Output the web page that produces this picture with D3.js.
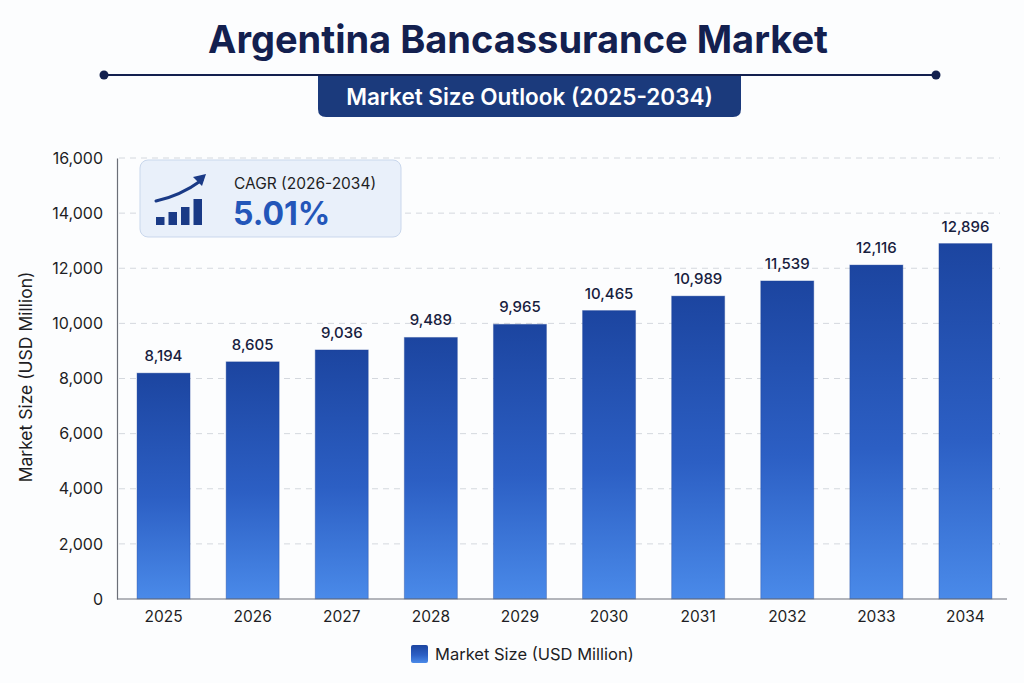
<!DOCTYPE html>
<html>
<head>
<meta charset="utf-8">
<script src="https://cdn.jsdelivr.net/npm/d3@7"></script>
<style>
  html, body { margin: 0; padding: 0; background: #fcfdfe; }
  svg { display: block; font-family: Inter, "Noto Sans", sans-serif; }
</style>
</head>
<body>
<svg id="chart"></svg>
<script>
// data
const YEARS = ['2025', '2026', '2027', '2028', '2029', '2030', '2031', '2032', '2033', '2034'];
const MARKET_SIZE = [8194, 8605, 9036, 9489, 9965, 10465, 10989, 11539, 12116, 12896];
const Y_TICKS = [0, 2000, 4000, 6000, 8000, 10000, 12000, 14000, 16000];
const CAGR_LABEL = 'CAGR (2026-2034)';
const CAGR_VALUE = '5.01%';

const WIDTH = 1024;
const HEIGHT = 683;
const MARGIN = { top: 158, right: 14, bottom: 84, left: 119 };
const CHART_W = 891;
const CHART_H = HEIGHT - MARGIN.top - MARGIN.bottom;

const svg = d3.select('#chart').attr('width', WIDTH).attr('height', HEIGHT);

const defs = svg.append('defs');
const grad = defs.append('linearGradient')
    .attr('id', 'barGrad')
    .attr('x1', 0).attr('y1', 0).attr('x2', 0).attr('y2', 1);
grad.append('stop').attr('offset', '0%').attr('stop-color', '#1c45a0');
grad.append('stop').attr('offset', '55%').attr('stop-color', '#2c5fc4');
grad.append('stop').attr('offset', '100%').attr('stop-color', '#4a8ae9');

// ---- title block ----
svg.append('text')
    .attr('x', 518).attr('y', 53)
    .attr('text-anchor', 'middle')
    .attr('font-size', 38).attr('font-weight', 700)
    .attr('fill', '#13204f')
    .text('Argentina Bancassurance Market');

svg.append('line')
    .attr('x1', 104).attr('x2', 936).attr('y1', 75).attr('y2', 75)
    .attr('stroke', '#13204f').attr('stroke-width', 2);
svg.selectAll('.end-dot')
    .data([104, 936])
    .enter().append('circle')
    .attr('cx', d => d).attr('cy', 75).attr('r', 4.5)
    .attr('fill', '#13204f');

svg.append('path')
    .attr('d', 'M318,76 H741 V109 Q741,117 733,117 H326 Q318,117 318,109 Z')
    .attr('fill', '#1b3a7c');
svg.append('text')
    .attr('x', 529.5).attr('y', 105)
    .attr('text-anchor', 'middle')
    .attr('font-size', 22.5).attr('font-weight', 600)
    .attr('fill', '#ffffff')
    .text('Market Size Outlook (2025-2034)');

// ---- scales ----
const x = d3.scaleBand()
    .domain(YEARS)
    .range([0, CHART_W])
    .paddingInner(0.405)
    .paddingOuter(0.2025);

const y = d3.scaleLinear()
    .domain([0, 16000])
    .range([CHART_H, 0]);

const chart = svg.append('g').attr('transform', `translate(${MARGIN.left},${MARGIN.top})`);

// gridlines
chart.append('g')
    .selectAll('line')
    .data(Y_TICKS.filter(d => d > 0))
    .enter().append('line')
    .attr('x1', 0).attr('x2', CHART_W - 10)
    .attr('y1', d => y(d)).attr('y2', d => y(d))
    .attr('stroke', '#d4d8de')
    .attr('stroke-dasharray', '6,5');

// y axis
const yAxis = chart.append('g')
    .call(d3.axisLeft(y).tickValues(Y_TICKS).tickFormat(d3.format(',')).tickSize(0).tickPadding(14))
    .attr('transform', 'translate(-2,0)');
yAxis.select('.domain').attr('stroke', '#6b6f78').attr('stroke-width', 1.2);
yAxis.selectAll('text').attr('font-size', 16).attr('fill', '#1e1e24').attr('font-family', 'Inter, sans-serif');

// bars
chart.selectAll('.bar')
    .data(MARKET_SIZE)
    .enter().append('rect')
    .classed('bar', true)
    .attr('x', (d, i) => x(YEARS[i]))
    .attr('y', d => y(d))
    .attr('width', x.bandwidth())
    .attr('height', d => CHART_H - y(d))
    .attr('fill', 'url(#barGrad)')
    .attr('stroke', '#1a3f94')
    .attr('stroke-opacity', 0.35)
    .attr('stroke-width', 1);

// value labels
chart.selectAll('.label')
    .data(MARKET_SIZE)
    .enter().append('text')
    .classed('label', true)
    .attr('x', (d, i) => x(YEARS[i]) + x.bandwidth() / 2)
    .attr('y', d => y(d) - 12)
    .attr('text-anchor', 'middle')
    .attr('font-size', 15).attr('font-weight', 500)
    .attr('fill', '#17203d')
    .text(d => d3.format(',')(d));

// x axis
const xAxis = chart.append('g')
    .attr('transform', `translate(0,${CHART_H})`)
    .call(d3.axisBottom(x).tickSize(0).tickPadding(12).tickSizeOuter(0));
xAxis.select('.domain').attr('stroke', '#6b6f78').attr('stroke-width', 1.2)
    .attr('d', `M-2,0H${CHART_W - 3}`);
xAxis.selectAll('text').attr('font-size', 15.5).attr('fill', '#1e1e24').attr('font-family', 'Inter, sans-serif');

// y axis title
svg.append('text')
    .attr('transform', 'translate(32,377) rotate(-90)')
    .attr('text-anchor', 'middle')
    .attr('font-size', 17.5)
    .attr('fill', '#1e1e24')
    .text('Market Size (USD Million)');

// ---- CAGR card ----
const card = svg.append('g').attr('transform', 'translate(140,160)');
card.append('rect')
    .attr('width', 261).attr('height', 77).attr('rx', 8)
    .attr('fill', '#e9f0fa')
    .attr('stroke', '#c9d7ec').attr('stroke-width', 1);
const iconBars = [8, 13, 18, 26];
card.selectAll('.ibar')
    .data(iconBars)
    .enter().append('rect')
    .attr('x', (d, i) => 16 + i * 12.5)
    .attr('y', d => 65 - d)
    .attr('width', 8.5)
    .attr('height', d => d)
    .attr('fill', '#1a3a86');
card.append('path')
    .attr('d', 'M16,41 Q40,36 62,20')
    .attr('fill', 'none').attr('stroke', '#1a3a86').attr('stroke-width', 3).attr('stroke-linecap', 'round');
card.append('path')
    .attr('d', 'M66,14 L53,17 L62,26 Z')
    .attr('fill', '#1a3a86');
card.append('text')
    .attr('x', 94).attr('y', 29)
    .attr('font-size', 15.5)
    .attr('fill', '#1e1e24')
    .text(CAGR_LABEL);
card.append('text')
    .attr('x', 93).attr('y', 65)
    .attr('font-size', 32).attr('font-weight', 700)
    .attr('fill', '#2356b9')
    .text(CAGR_VALUE);

// ---- legend ----
const legend = svg.append('g').attr('transform', 'translate(411,645)');
legend.append('rect')
    .attr('width', 17).attr('height', 18).attr('rx', 2)
    .attr('fill', 'url(#barGrad)');
legend.append('text')
    .attr('x', 24).attr('y', 15)
    .attr('font-size', 16.5)
    .attr('fill', '#1e1e24')
    .text('Market Size (USD Million)');
</script>
</body>
</html>
